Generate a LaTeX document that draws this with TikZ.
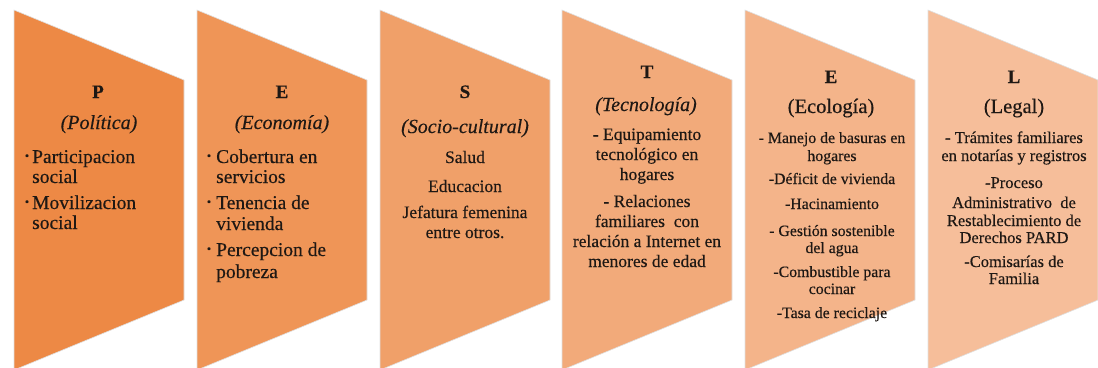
\documentclass[tikz,border=0pt]{standalone}
\usepackage{fontspec}
\setmainfont{Liberation Serif}[FakeBold=0.35]
\definecolor{c1}{RGB}{237,137,69}
\definecolor{c2}{RGB}{239,149,87}
\definecolor{c3}{RGB}{240,160,105}
\definecolor{c4}{RGB}{242,170,122}
\definecolor{c5}{RGB}{244,180,138}
\definecolor{c6}{RGB}{246,190,154}
\definecolor{ink}{RGB}{30,24,20}
\tikzset{
  panel/.style={draw=black!12, line width=0.6pt},
  letter/.style={font=\fontsize{19}{21}\selectfont\bfseries, text=ink, inner sep=0pt, anchor=base},
  subit/.style={font=\fontsize{20}{22}\selectfont\itshape, text=ink, inner sep=0pt, anchor=base},
  subup/.style={font=\fontsize{20.5}{22}\selectfont, text=ink, inner sep=0pt, anchor=base},
  bodyL/.style={font=\fontsize{19.5}{21}\selectfont, text=ink, inner sep=0pt, anchor=base west},
  bul/.style={font=\fontsize{12}{13}\selectfont, text=ink, inner sep=0pt, anchor=center},
  bodyS/.style={font=\fontsize{17.5}{19}\selectfont, text=ink, inner sep=0pt, anchor=base},
  bodyT/.style={font=\fontsize{17.5}{19}\selectfont, text=ink, inner sep=0pt, anchor=base},
  bodyE/.style={font=\fontsize{15.8}{17}\selectfont, text=ink, inner sep=0pt, anchor=base},
  bodyG/.style={font=\fontsize{16.5}{18}\selectfont, text=ink, inner sep=0pt, anchor=base},
}
\begin{document}
\begin{tikzpicture}[x=1pt,y=-1pt]
\useasboundingbox (0,0) rectangle (1098,367);
% panels
\foreach \L/\c in {14/c1,197/c2,380/c3,562/c4,745/c5,928/c6}
  \filldraw[panel, fill=\c] (\L,10) -- (\L+170,80) -- (\L+170,300) -- (\L,370) -- cycle;

% column 1
\node[letter] (p1h) at (98,98) {P};
\node[subit] (p1s) at (99,129) {(Política)};
\node[bul] (p1b1) at (27,157) {•};
\node[bodyL] (p1t1) at (32,163) {Participacion};
\node[bodyL] (p1t2) at (32,183) {social};
\node[bul] (p1b2) at (27,203) {•};
\node[bodyL] (p1t3) at (32,209) {Movilizacion};
\node[bodyL] (p1t4) at (32,229) {social};

% column 2
\node[letter] (p2h) at (282,98) {E};
\node[subit] (p2s) at (282,129) {(Economía)};
\node[bul] (p2b1) at (209,157) {•};
\node[bodyL] (p2t1) at (216,163) {Cobertura en};
\node[bodyL] (p2t2) at (216,183) {servicios};
\node[bul] (p2b2) at (209,203) {•};
\node[bodyL] (p2t3) at (216,209) {Tenencia de};
\node[bodyL] (p2t4) at (216,230) {vivienda};
\node[bul] (p2b3) at (209,250) {•};
\node[bodyL] (p2t5) at (216,256) {Percepcion de};
\node[bodyL] (p2t6) at (216,278) {pobreza};

% column 3
\node[letter] (p3h) at (465,98) {S};
\node[subit] (p3s) at (465,133) {(Socio-cultural)};
\foreach \y/\t [count=\k] in {158/{Salud},187/{Educacion},213/{Jefatura femenina},233/{entre otros.}}
  \node[bodyS] (p3t\k) at (465,\y+5) {\t};

% column 4
\node[letter] (p4h) at (647,78) {T};
\node[subit] (p4s) at (646,111) {(Tecnología)};
\foreach \y/\t [count=\k] in {135/{- Equipamiento},155/{tecnológico en},175/{hogares},202/{- Relaciones},222/{familiares\ \ con},242/{relación a Internet en},262/{menores de edad}}
  \node[bodyT] (p4t\k) at (647,\y+5) {\t};

% column 5
\node[letter] (p5h) at (831,83) {E};
\node[subup] (p5s) at (831,113) {(Ecología)};
\foreach \y/\t [count=\k] in {138/{- Manejo de basuras en},156/{hogares},179/{-Déficit de vivienda},204/{-Hacinamiento},231/{- Gestión sostenible},248/{del agua},272/{-Combustible para},289/{cocinar},313/{-Tasa de reciclaje}}
  \node[bodyE] (p5t\k) at (832,\y+5) {\t};

% column 6
\node[letter] (p6h) at (1014,83) {L};
\node[subup] (p6s) at (1014,113) {(Legal)};
\foreach \y/\t [count=\k] in {138/{- Trámites familiares},156/{en notarías y registros},183/{-Proceso},203/{Administrativo\ \ de},221/{Restablecimiento de},238/{Derechos PARD},262/{-Comisarías de},279/{Familia}}
  \node[bodyG] (p6t\k) at (1014,\y+5) {\t};
\end{tikzpicture}
\end{document}
